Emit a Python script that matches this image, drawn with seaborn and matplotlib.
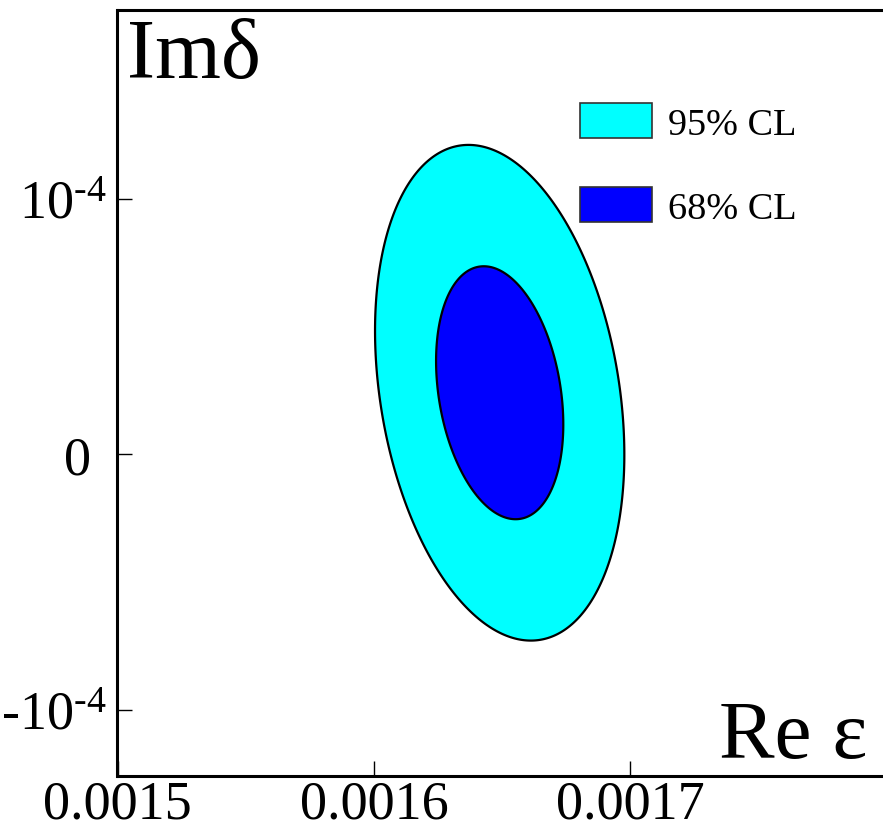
import numpy as np
import matplotlib
matplotlib.use("Agg")
import matplotlib.pyplot as plt
import matplotlib.transforms as mtransforms
from matplotlib.patches import Patch
import seaborn as sns

# Fit result: Re(epsilon) and Im(delta) with their errors and correlation
re_eps_center = 0.001649
im_delta_center = 2.4e-5
re_eps_sigma = 2.48e-5
im_delta_sigma = 4.95e-5
correlation = -0.25

# Delta chi^2 levels of the two confidence regions
cl_labels = ["95% CL", "68% CL"]
cl_levels = [3.84, 1.0]
cl_colors = ["#00FFFF", "#0000FF"]

x_ticks = [0.0015, 0.0016, 0.0017]
x_ticklabels = ["0.0015", "0.0016", "0.0017"]
y_ticks = [-1e-4, 0.0, 1e-4]
y_ticklabels = ["-10$^{\u20104}$", "0", "10$^{\u20104}$"]

sns.set_theme(style="ticks")
plt.rcParams["font.family"] = ["Liberation Serif", "DejaVu Serif"]
plt.rcParams["mathtext.fontset"] = "custom"
plt.rcParams["mathtext.rm"] = "Liberation Serif"
plt.rcParams["mathtext.it"] = "Liberation Serif:italic"
plt.rcParams["mathtext.bf"] = "Liberation Serif:bold"
plt.rcParams["mathtext.default"] = "rm"
plt.rcParams["text.color"] = "black"
plt.rcParams["axes.edgecolor"] = "black"

W, H = 883, 829
fig = plt.figure(figsize=(W / 100, H / 100), dpi=100)
fig.patch.set_facecolor("white")

x0, x1 = 0.0015, 0.0018
y0, y1 = -1.26e-4, 1.738e-4
left_px, top_px, bottom_px = 117.5, 11, 777
px_per_x = 2565000.0
right_px = left_px + (x1 - x0) * px_per_x
ax = fig.add_axes([left_px / W, 1 - bottom_px / H,
                   (right_px - left_px) / W, (bottom_px - top_px) / H])
ax.set_facecolor("white")

# chi^2 surface of the correlated gaussian
gx = np.linspace(x0, x1, 600)
gy = np.linspace(y0, y1, 600)
X, Y = np.meshgrid(gx, gy)
u = (X - re_eps_center) / re_eps_sigma
v = (Y - im_delta_center) / im_delta_sigma
chi2 = (u**2 - 2 * correlation * u * v + v**2) / (1 - correlation**2)

ax.contourf(X, Y, chi2, levels=[0, cl_levels[1], cl_levels[0]],
            colors=[cl_colors[1], cl_colors[0]])
ax.contour(X, Y, chi2, levels=sorted(cl_levels), colors="black",
           linewidths=1.6)

ax.set_xlim(x0, x1)
ax.set_ylim(y0, y1)

ax.set_xticks(x_ticks)
ax.set_xticklabels(x_ticklabels)
ax.set_yticks(y_ticks)
ax.set_yticklabels(y_ticklabels)
ax.tick_params(direction="in", length=11, width=1.0, color="black",
               labelsize=39, labelcolor="black", bottom=True, left=True,
               top=False, right=False)
ax.tick_params(axis="x", pad=2)
ax.tick_params(axis="y", pad=8)

# keep the "0" aligned with the mantissa of the power labels
for lab in ax.get_yticklabels():
    if lab.get_text() == "0":
        lab.set_transform(lab.get_transform() + mtransforms.ScaledTranslation(
            -0.15, 0, fig.dpi_scale_trans))

for side in ["left", "bottom", "top"]:
    ax.spines[side].set_visible(True)
    ax.spines[side].set_color("black")
    ax.spines[side].set_linewidth(2.2)
ax.spines["right"].set_visible(False)

ax.text(0.012, 0.9125, "Imδ", transform=ax.transAxes, fontsize=61,
        ha="left", va="baseline", color="black")
ax.text(0.975, 0.0248, "Re ε", transform=ax.transAxes, fontsize=60,
        ha="right", va="baseline", color="black")

handles = [Patch(facecolor=c, edgecolor="#333333", linewidth=1.2)
           for c in cl_colors]
leg = ax.legend(handles, cl_labels, loc="upper left",
                bbox_to_anchor=(0.6006, (bottom_px - 104) / (bottom_px - top_px)),
                frameon=False, fontsize=27.5, borderpad=0, borderaxespad=0,
                handlelength=1.9, handleheight=1.05, handletextpad=0.42,
                labelspacing=1.18)
for t in leg.get_texts():
    t.set_color("black")

fig.savefig("out.png", dpi=100, facecolor="white")
